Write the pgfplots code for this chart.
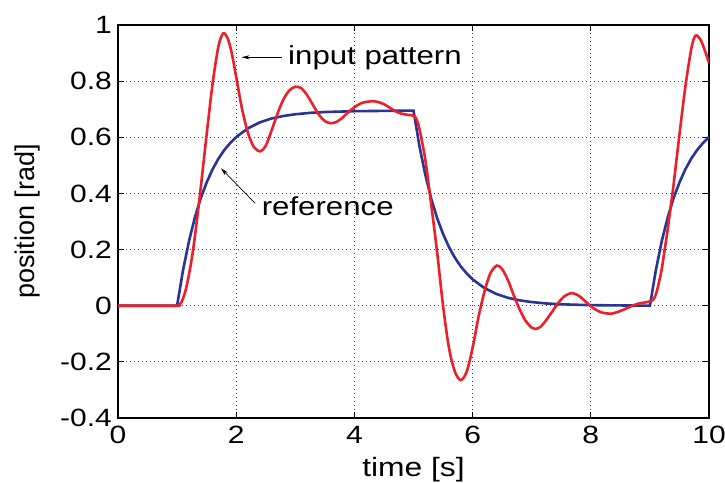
\documentclass[border=0pt]{standalone}
\usepackage{pgfplots}
\pgfplotsset{compat=1.18}
\usepackage{fontspec}
\setmainfont{Liberation Sans}[FakeStretch=1.2]
\newfontfamily\plainsans{Liberation Sans}
\usetikzlibrary{arrows.meta}

\definecolor{inred}{RGB}{236,32,40}
\definecolor{refblue}{RGB}{42,52,150}

\begin{document}
\begin{tikzpicture}
\begin{axis}[
  scale only axis,
  width=591pt, height=393pt,
  xmin=0, xmax=10, ymin=-0.4, ymax=1,
  xtick={0,2,...,10},
  ytick={-0.4,-0.2,0,0.2,0.4,0.6,0.8,1},
  /pgf/number format/assume math mode=true,
  tick label style={font=\fontsize{25}{30}\selectfont, inner sep=0pt},
  xticklabel style={anchor=base, yshift=-25pt},
  yticklabel style={anchor=east, xshift=-6pt},
  xlabel={time [s]},
  ylabel={position [rad]},
  xlabel style={font=\fontsize{26.5}{30}\selectfont, at={(axis description cs:0.5,0)}, anchor=base, yshift=-58pt, inner sep=0pt},
  ylabel style={font=\plainsans\fontsize{27}{32}\selectfont, at={(axis description cs:-0.1523,0.5)}, anchor=center, inner sep=0pt},
  grid=major,
  major grid style={black!75, line width=0.8pt, dash pattern=on 1pt off 3pt},
  axis line style={line width=1.1pt},
  tick align=inside,
  major tick length=6pt,
  tick style={black, line width=0.8pt},
]
% reference (blue)
\addplot[refblue, line width=2.6pt] coordinates {
  (0,0) (1,0) (1.1,0.126) (1.2,0.229) (1.3,0.314) (1.4,0.383) (1.5,0.439)
  (1.6,0.486) (1.7,0.524) (1.8,0.555) (1.9,0.580) (2.0,0.601) (2.2,0.632)
  (2.4,0.653) (2.6,0.667) (2.8,0.676) (3.0,0.682) (3.25,0.687) (3.5,0.690)
  (4.0,0.693) (4.5,0.694) (5.0,0.695) (5.1,0.569) (5.2,0.466) (5.3,0.381)
  (5.4,0.312) (5.5,0.256) (5.6,0.209) (5.7,0.171) (5.8,0.140) (5.9,0.115)
  (6.0,0.094) (6.2,0.063) (6.4,0.042) (6.6,0.028) (6.8,0.019) (7.0,0.013)
  (7.25,0.008) (7.5,0.005) (8.0,0.002) (8.5,0.001) (9.0,0)
  (9.1,0.126) (9.2,0.229) (9.3,0.314) (9.4,0.383) (9.5,0.439) (9.6,0.486)
  (9.7,0.524) (9.8,0.555) (9.9,0.580) (10.0,0.601)
};
% input pattern (red)
\addplot[inred, line width=2.6pt, smooth, tension=0.5] coordinates {
  (0,0) (0.5,0) (1.0,0) (1.05,0.005) (1.1,0.025) (1.15,0.06) (1.2,0.11)
  (1.25,0.17) (1.3,0.245) (1.35,0.33) (1.4,0.42) (1.5,0.61) (1.6,0.79)
  (1.7,0.925) (1.78,0.97) (1.85,0.955) (1.92,0.905) (2.0,0.815) (2.1,0.70)
  (2.2,0.615) (2.3,0.565) (2.41,0.55) (2.5,0.57) (2.6,0.625) (2.7,0.685)
  (2.8,0.735) (2.9,0.767) (3.0,0.78) (3.1,0.775) (3.2,0.75) (3.3,0.715)
  (3.4,0.68) (3.5,0.658) (3.6,0.65) (3.7,0.655) (3.8,0.67) (3.9,0.69)
  (4.0,0.707) (4.1,0.72) (4.2,0.726) (4.35,0.728) (4.5,0.718) (4.6,0.705)
  (4.7,0.692) (4.8,0.684) (4.9,0.68) (5.0,0.677) (5.05,0.665) (5.1,0.63)
  (5.2,0.52) (5.3,0.36) (5.4,0.19) (5.5,0.0) (5.6,-0.15) (5.7,-0.235)
  (5.8,-0.265) (5.9,-0.235) (6.0,-0.15) (6.1,-0.04) (6.2,0.05) (6.3,0.115)
  (6.41,0.143) (6.5,0.13) (6.6,0.09) (6.7,0.035) (6.8,-0.015) (6.9,-0.055)
  (7.0,-0.078) (7.06,-0.083) (7.15,-0.075) (7.25,-0.05) (7.35,-0.02)
  (7.45,0.01) (7.55,0.033) (7.68,0.045) (7.8,0.035) (7.9,0.017) (8.0,-0.002)
  (8.1,-0.016) (8.2,-0.025) (8.35,-0.028) (8.5,-0.019) (8.65,-0.005)
  (8.8,0.007) (8.95,0.013) (9.05,0.02) (9.1,0.04) (9.15,0.08) (9.2,0.13)
  (9.25,0.20) (9.3,0.27) (9.35,0.35) (9.4,0.43) (9.5,0.61) (9.6,0.78)
  (9.7,0.915) (9.77,0.962) (9.85,0.95) (9.92,0.915) (10.0,0.865)
};
\draw[-{Stealth[length=8pt,width=4pt]}, line width=0.7pt] (axis cs:2.77,0.885) -- (axis cs:2.09,0.885);
\node[anchor=base west, inner sep=0pt, font=\fontsize{26}{30}\selectfont] at (axis cs:2.877,0.861) {input pattern};
\draw[-{Stealth[length=8pt,width=4pt]}, line width=0.7pt] (axis cs:2.32,0.365) -- (axis cs:1.74,0.49);
\node[anchor=base west, inner sep=0pt, font=\fontsize{26}{30}\selectfont] at (axis cs:2.43,0.323) {reference};
\end{axis}
\pgfresetboundingbox
\path[use as bounding box] (-118pt,-64pt) rectangle (607pt,418pt);
\end{tikzpicture}
\end{document}
